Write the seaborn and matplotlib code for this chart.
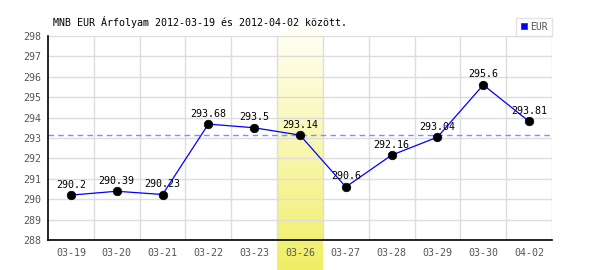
import matplotlib
matplotlib.use("Agg")
import matplotlib.pyplot as plt
import seaborn as sns
import numpy as np
import pandas as pd
from matplotlib.lines import Line2D

dates = ["03-19", "03-20", "03-21", "03-22", "03-23", "03-26",
         "03-27", "03-28", "03-29", "03-30", "04-02"]
eur = [290.2, 290.39, 290.23, 293.68, 293.5, 293.14,
       290.6, 292.16, 293.04, 295.6, 293.81]
highlight_date = "03-26"
reference_value = 293.14
y_ticks = [288, 289, 290, 291, 292, 293, 294, 295, 296, 297, 298]
title = "MNB EUR Árfolyam 2012-03-19 és 2012-04-02 között."
series_name = "EUR"

df = pd.DataFrame({"pos": range(len(dates)), "date": dates, "eur": eur})

sns.set_theme(style="white")
plt.rcParams["font.family"] = ["DejaVu Sans Mono", "DejaVu Sans"]

fig = plt.figure(figsize=(6, 2.7), dpi=100)
ax = fig.add_axes([0.08, 0.111, 0.84, 0.756])
ax.set_facecolor("none")

# grid
for yv in y_ticks:
    ax.axhline(yv, color="#dddddd", lw=1, zorder=0)
for i in range(len(dates)):
    ax.axvline(i + 0.5, color="#dddddd", lw=1, zorder=0)

# highlight band gradient
hi = dates.index(highlight_date)
n = 60
top, bot = 1.044, -0.147
c_top = np.array([255, 255, 246]) / 255
c_bot = np.array([240, 238, 100]) / 255
for k in range(n):
    y0 = bot + (top - bot) * k / n
    y1 = bot + (top - bot) * (k + 1) / n
    t = (k + 0.5) / n
    c = c_bot * (1 - t) + c_top * t
    ax.axvspan(hi - 0.5, hi + 0.5, ymin=y0, ymax=y1, color=c, lw=0,
               zorder=-1, clip_on=False)

ax.axhline(reference_value, color="#8888ff", lw=1, ls=(0, (4, 3)), zorder=1)

sns.lineplot(data=df, x="pos", y="eur", color="#0000ff", lw=0.9, ax=ax,
             zorder=2)
sns.scatterplot(data=df, x="pos", y="eur", color="black", s=38,
                edgecolor="black", ax=ax, zorder=3)

for i, v in enumerate(eur):
    ax.annotate(f"{v:g}", (i, v), xytext=(0, 4), textcoords="offset points",
                ha="center", va="bottom", fontsize=7.2, color="black",
                zorder=4)

ax.set_xlim(-0.5, len(dates) - 0.5)
ax.set_ylim(y_ticks[0], y_ticks[-1])
ax.set_xticks(range(len(dates)))
ax.set_xticklabels(dates)
ax.set_yticks(y_ticks)
ax.tick_params(axis="both", length=0, labelsize=7.2, labelcolor="#555555")
ax.tick_params(axis="x", pad=6)
ax.tick_params(axis="y", pad=5)
ax.set_xlabel("")
ax.set_ylabel("")
for s in ["top", "right"]:
    ax.spines[s].set_visible(False)
ax.spines["left"].set_color("black")
ax.spines["bottom"].set_color("black")
ax.spines["left"].set_linewidth(1.2)
ax.spines["bottom"].set_linewidth(1.2)

fig.text(53 / 600, 1 - 22 / 270, title, ha="left", va="center",
         fontsize=7.2, color="black")

handle = Line2D([], [], marker="s", color="none", markerfacecolor="#0000ff",
                markeredgecolor="#444444", markersize=5, markeredgewidth=0.6)
leg = ax.legend([handle], [series_name], loc="upper right",
                bbox_to_anchor=(1.0, 1.088), frameon=True, fancybox=False,
                fontsize=7, handlelength=0.8, handletextpad=0.3,
                borderpad=0.4, borderaxespad=0, labelcolor="#555555")
leg.get_frame().set_edgecolor("#dddddd")
leg.get_frame().set_linewidth(1)
leg.set_zorder(5)

fig.savefig("out.png", dpi=100)
